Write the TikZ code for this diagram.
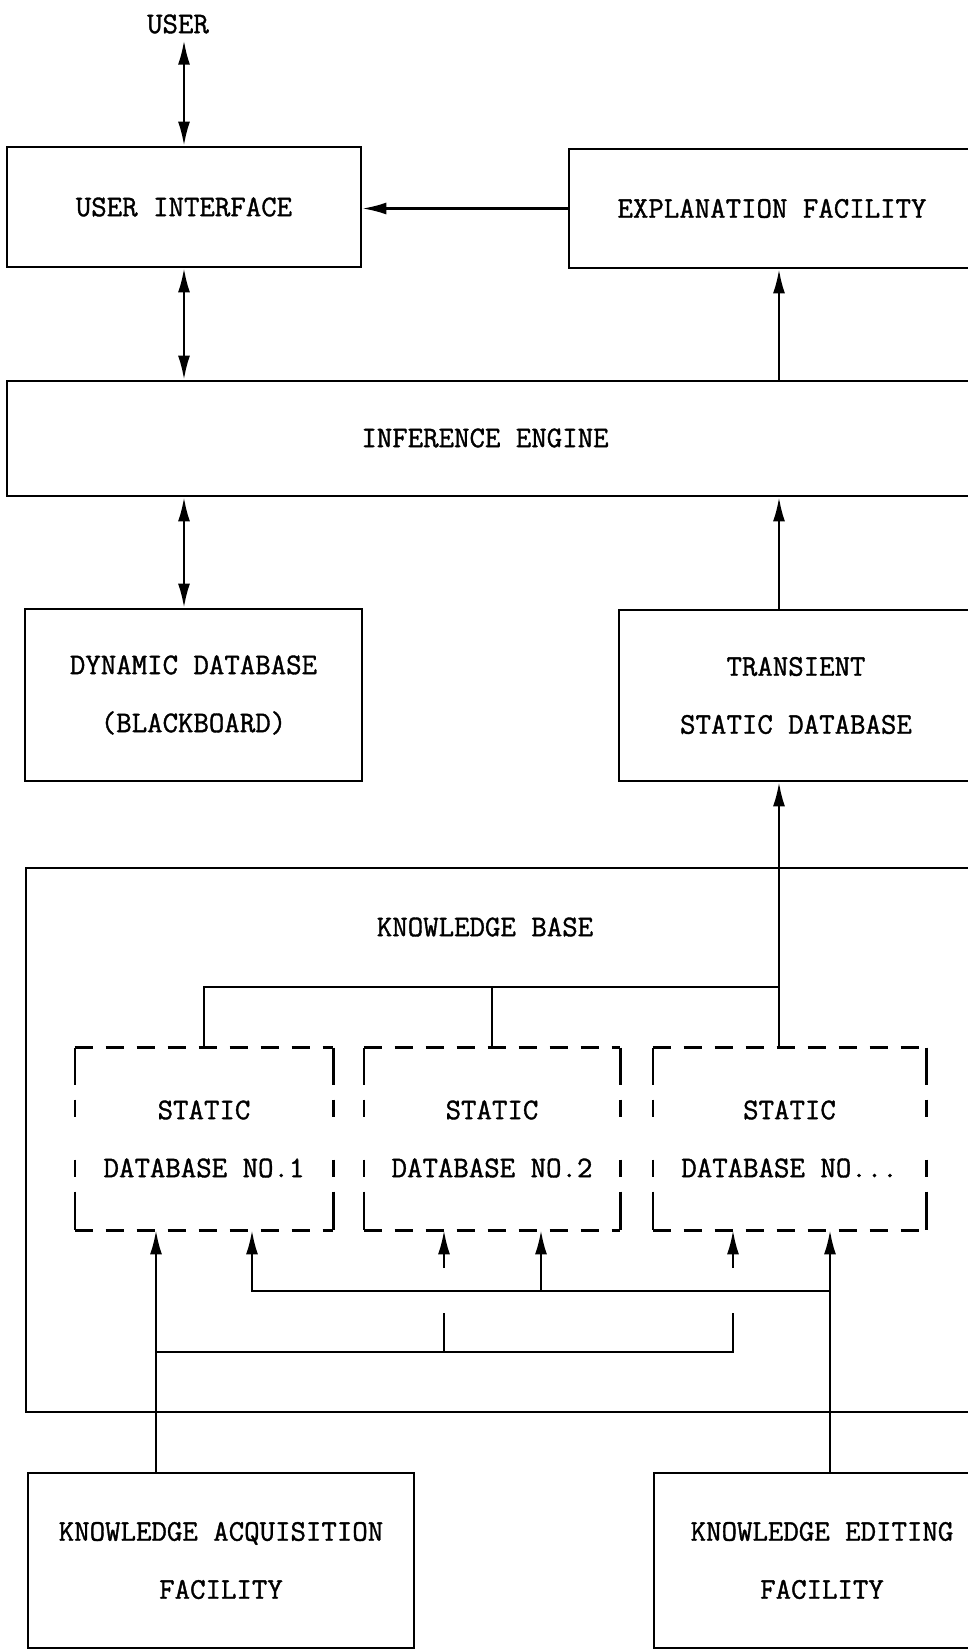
\documentclass[tikz,border=0pt]{standalone}
\usepackage{fontspec}
\usetikzlibrary{arrows.meta}

\newfontfamily\printfont[FakeBold=1.2]{Latin Modern Mono}
\newcommand{\boxfont}{\printfont\fontsize{15}{29}\selectfont}

\tikzset{
  box/.style={draw,line width=1.4pt,font=\boxfont,align=center,inner sep=0pt},
  dbbox/.style={font=\boxfont,align=center,inner sep=0pt},
  dashtop/.style={line width=1.4pt,dash pattern=on 9pt off 6.5pt},
  dashside/.style={line width=1.1pt,dash pattern=on 18.5pt off 7.5pt on 8.5pt off 21.5pt on 8.5pt off 7.5pt on 19pt},
  link/.style={line width=1.1pt},
  arr/.style={link,-{Latex[length=12pt,width=6pt]}},
  dbl/.style={link,{Latex[length=12pt,width=6pt]}-{Latex[length=12pt,width=6pt]}}
}

\begin{document}
\begin{tikzpicture}[x=0.5pt,y=-0.5pt]

\useasboundingbox (0,0) rectangle (968,1649);

\node[font=\boxfont] (user) at (178,24) {USER};
\node[box,minimum width=177pt,minimum height=60pt] (ui) at (184,207) {USER INTERFACE};
\node[box,minimum width=203pt,minimum height=59.5pt] (expl) at (772,208.5) {EXPLANATION FACILITY};

\node[box,minimum width=491.5pt,minimum height=57.5pt] (ie) at (498.5,438.5) {};
\node[font=\boxfont] (ietext) at (485,438) {INFERENCE ENGINE};

\node[box,minimum width=168.5pt,minimum height=86pt] (dyn) at (193.5,695) {DYNAMIC DATABASE\\(BLACKBOARD)};
\node[box,minimum width=177pt,minimum height=85.5pt] (trans) at (796,695.5) {TRANSIENT\\STATIC DATABASE};

\node[box,minimum width=487pt,minimum height=272pt] (kb) at (513,1140) {};
\node[font=\boxfont] (kbtext) at (485,927) {KNOWLEDGE BASE};

\node[dbbox,minimum width=129pt,minimum height=91pt] (db1) at (204,1139) {STATIC\\DATABASE NO.1};
\node[dbbox,minimum width=128pt,minimum height=91pt] (db2) at (492,1139) {STATIC\\DATABASE NO.2};
\node[dbbox,minimum width=136.5pt,minimum height=91pt] (db3) at (789.5,1139) {STATIC\\DATABASE NO...};

\foreach \d in {db1,db2,db3}{
  \draw[dashtop] (\d.north west) -- (\d.north east) (\d.south west) -- (\d.south east);
  \draw[dashside] (\d.north west) -- (\d.south west) (\d.north east) -- (\d.south east);
}

\node[box,minimum width=193pt,minimum height=87.5pt] (acq) at (221,1560.5) {KNOWLEDGE ACQUISITION\\FACILITY};
\node[box,minimum width=168pt,minimum height=87.5pt] (edit) at (822,1560.5) {KNOWLEDGE EDITING\\FACILITY};

\coordinate (spine) at (779,0);
\coordinate (bus) at (779,987);

\draw[dbl] (user.south -| ui.north) -- (ui.north);
\draw[arr] (expl.west) -- (expl.west -| ui.east);
\draw[dbl] (ui.south) -- (ui.south |- ie.north);
\draw[arr] (ie.north -| spine) -- (expl.south -| spine);
\draw[dbl] (ie.south -| ui.south) -- (dyn.north -| ui.south);
\draw[arr] (trans.north -| spine) -- (ie.south -| spine);
\draw[arr] (db3.north -| spine) -- (trans.south -| spine);
\draw[link] (db1.north) |- (bus);
\draw[link] (db2.north) -- (db2.north |- bus);

% feeds into the static databases
\coordinate (acqbus) at (156,1352);
\coordinate (gap2) at (444,1313);
\coordinate (gap3) at (733,1313);
\coordinate (tip2) at (444,1268);
\coordinate (tip3) at (733,1268);
\coordinate (edbus) at (830,1291);
\coordinate (ed1) at (252,1291);
\coordinate (ed2) at (541,1291);

\draw[arr] (acq.north -| acqbus) -- (db1.south -| acqbus);
\draw[link] (acqbus) -| (gap3);
\draw[link] (gap2) -- (gap2 |- acqbus);
\draw[arr] (tip2) -- (db2.south -| tip2);
\draw[arr] (tip3) -- (db3.south -| tip3);
\draw[arr] (edit.north -| edbus) -- (db3.south -| edbus);
\draw[arr] (edbus) -- (ed1) -- (db1.south -| ed1);
\draw[arr] (ed2) -- (db2.south -| ed2);

\end{tikzpicture}
\end{document}
